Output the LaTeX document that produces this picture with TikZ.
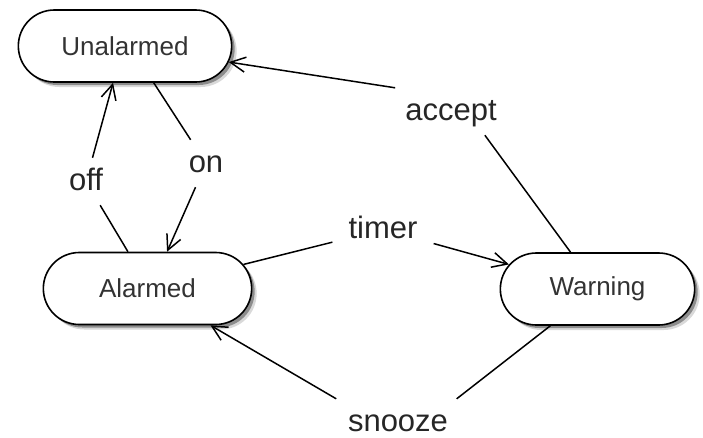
\documentclass[tikz,border=0pt]{standalone}
\usepackage{fontspec}
\setmainfont{Liberation Sans}
\usetikzlibrary{shapes.misc,shadows,arrows.meta}

\tikzset{
  state/.style={rounded rectangle, draw, line width=1.6pt, fill=white,
    minimum height=72pt, text=black!80,
    font=\fontsize{26}{30}\selectfont,
    drop shadow={shadow xshift=5pt, shadow yshift=-5pt, opacity=0.15, fill=black},
    drop shadow={shadow xshift=3pt, shadow yshift=-3pt, opacity=0.35, fill=black}},
  lbl/.style={anchor=base, inner xsep=16pt, inner ysep=9pt, text height=23pt,
    text depth=6pt, text=black!85, font=\fontsize{31}{36}\selectfont},
  seg/.style={line width=1.5pt},
  tr/.style={seg, -{Straight Barb[length=15pt, width=15pt, line width=1.5pt]}}
}

\begin{document}
\begin{tikzpicture}[x=1pt, y=-1pt]
    \useasboundingbox (0,0) rectangle (703,437);

    \node[state, minimum width=220pt] (unalarmed) at (125,46) {Unalarmed};
    \node[state, minimum width=215pt] (alarmed) at (147.5,288.5) {Alarmed};
    \node[state, minimum width=201pt] (warning) at (597.5,289) {Warning};

    \node[lbl] (off) at (86,190) {off};
    \node[lbl] (on) at (206,172) {on};
    \node[lbl] (timer) at (383,238) {timer};
    \node[lbl] (accept) at (451,120) {accept};
    \node[lbl] (snooze) at (398,431) {snooze};

    \draw[seg] (alarmed.118) -- (off);
    \draw[tr] (off) -- (unalarmed.252);
    \draw[seg] (unalarmed.308) -- (on);
    \draw[tr] (on) -- (alarmed.62);
    \draw[seg] (alarmed) -- (timer);
    \draw[tr] (timer) -- (warning);
    \draw[seg] (warning) -- (accept.-35);
    \draw[tr] (accept.157) -- (unalarmed);
    \draw[seg] (warning) -- (snooze.22);
    \draw[tr] (snooze.159) -- (alarmed);
\end{tikzpicture}
\end{document}
